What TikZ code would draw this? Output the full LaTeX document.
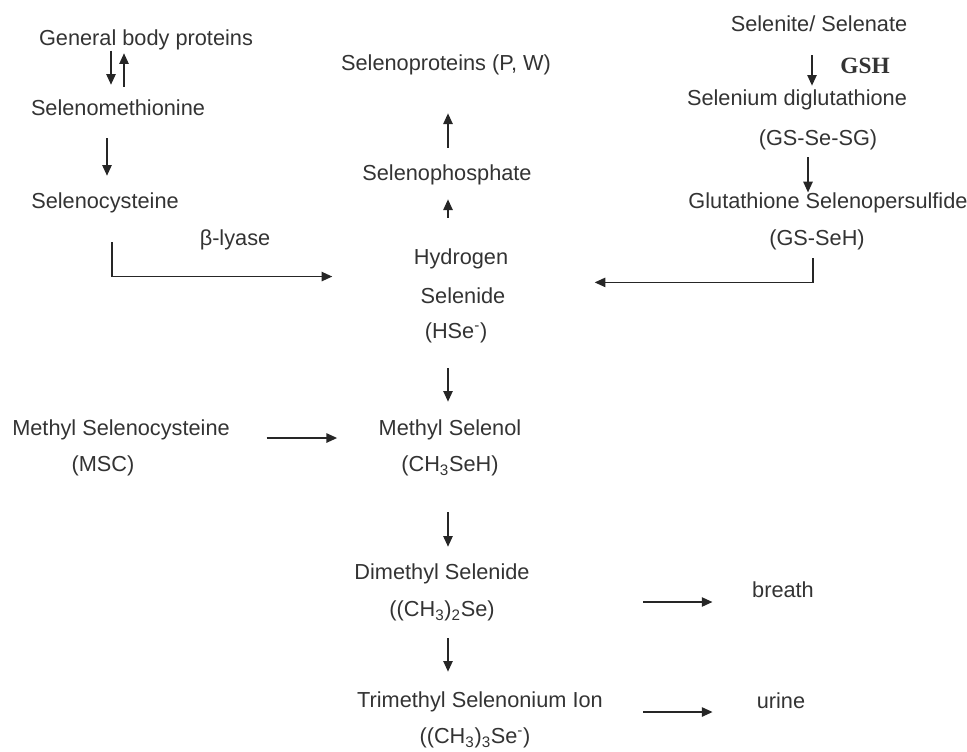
\documentclass[tikz,border=0pt]{standalone}
\usepackage{fontspec}
\setmainfont{Liberation Sans}
\newfontfamily\gshfont{Liberation Serif}
\usetikzlibrary{positioning,calc,arrows.meta}

\begin{document}
\begin{tikzpicture}[x=0.75pt,y=-0.75pt,every node/.style={lbl},
        lbl/.style={inner sep=0pt,text height=12pt,text depth=3.5pt,text=black!80,
                    font=\fontsize{16.3}{19}\selectfont},
        arr/.style={-{Triangle[length=8pt,width=7pt]},line width=1.1pt,black!85}]
   \useasboundingbox (0,0) rectangle (967,751);
   % left column
   \node (gbp) at (146,40) {General body proteins};
   \node (smet) at (118,110) {Selenomethionine};
   \node (scys) at (105,203) {Selenocysteine};
   \node (lyase) at (235,240) {β-lyase};
   \node (msc) at (121,430) {Methyl Selenocysteine};
   \node (mscf) at (103,466) {(MSC)};
   % middle column
   \node (sprot) at (446,65) {Selenoproteins (P, W)};
   \node (sphos) at (447,175) {Selenophosphate};
   \node (hyd) at (461,259) {Hydrogen};
   \node (sel) at (463,298) {Selenide};
   \node (hse) at (456,333) {(HSe\textsuperscript{-})};
   \node (msel) at (450,430) {Methyl Selenol};
   \node (mself) at (450,466) {(CH\textsubscript{3}SeH)};
   \node (dms) at (442,574) {Dimethyl Selenide};
   \node (dmsf) at (442,611) {((CH\textsubscript{3})\textsubscript{2}Se)};
   \node (tms) at (480,702) {Trimethyl Selenonium Ion};
   \node (tmsf) at (475,738) {((CH\textsubscript{3})\textsubscript{3}Se\textsuperscript{-})};
   \node (breath) at (783,592) {breath};
   \node (urine) at (781,703) {urine};
   % right column
   \node (selite) at (819,26) {Selenite/ Selenate};
   \node (gsh) at (865,68) [font=\gshfont\bfseries\fontsize{17.5}{20}\selectfont] {GSH};
   \node (sdig) at (797,100) {Selenium diglutathione};
   \node (gsse) at (818,140) {(GS-Se-SG)};
   \node (gspers) at (828,203) {Glutathione Selenopersulfide};
   \node (gsseh) at (817,240) {(GS-SeH)};

   \draw[arr,shorten >=11pt] (gbp.south -| 111,0) -- (smet.north -| 111,0);
   \draw[arr,shorten <=9.5pt,shorten >=2pt] (smet.north -| 124,0) -- (gbp.south -| 124,0);
   \draw[arr,shorten <=13.3pt,shorten >=12.5pt] (smet.south -| 107,0) -- (scys.north -| 107,0);
   \draw[arr,shorten <=21.5pt,shorten >=63.3pt] (scys.south -| 112,0) |- ($(hyd.west)!.45!(sel.west)$);
   \draw[arr,shorten <=27.4pt,shorten >=31pt] ([yshift=-6pt]msc.east) -- ([yshift=-6pt]msel.west);

   \draw[arr,shorten <=12.5pt,shorten >=28.3pt] (sphos.north -| 448,0) -- (sprot.south -| 448,0);
   \draw[arr,shorten <=23pt,shorten >=10.3pt] (hyd.north -| 448,0) -- (sphos.south -| 448,0);
   \draw[arr,shorten <=18.5pt,shorten >=13.3pt] (hse.south -| 448,0) -- (msel.north -| 448,0);
   \draw[arr,shorten <=26.8pt,shorten >=12.5pt] (mself.south -| 448,0) -- (dms.north -| 448,0);
   \draw[arr,shorten <=12.5pt,shorten >=14.8pt] (dmsf.south -| 448,0) -- (tms.north -| 448,0);
   \draw[arr,shorten <=85pt,shorten >=29.6pt] ([yshift=-21pt]dms.east) -- ([yshift=-7.5pt]breath.west);
   \draw[arr,shorten <=30pt,shorten >=33pt] ([yshift=-7.5pt]tms.east) -- ([yshift=-6.75pt]urine.west);

   \draw[arr,shorten <=14pt,shorten >=2.8pt] (selite.south -| 812,0) -- (sdig.north -| 812,0);
   \draw[arr,shorten <=5pt] (gsse.south -| 808,0) -- (gspers.north -| 808,0);
   \draw[arr,shorten <=5.8pt,shorten >=66pt] (gsseh.south -| 813,0) |- ($(hyd.east)!.6!(sel.east)$);
\end{tikzpicture}
\end{document}
